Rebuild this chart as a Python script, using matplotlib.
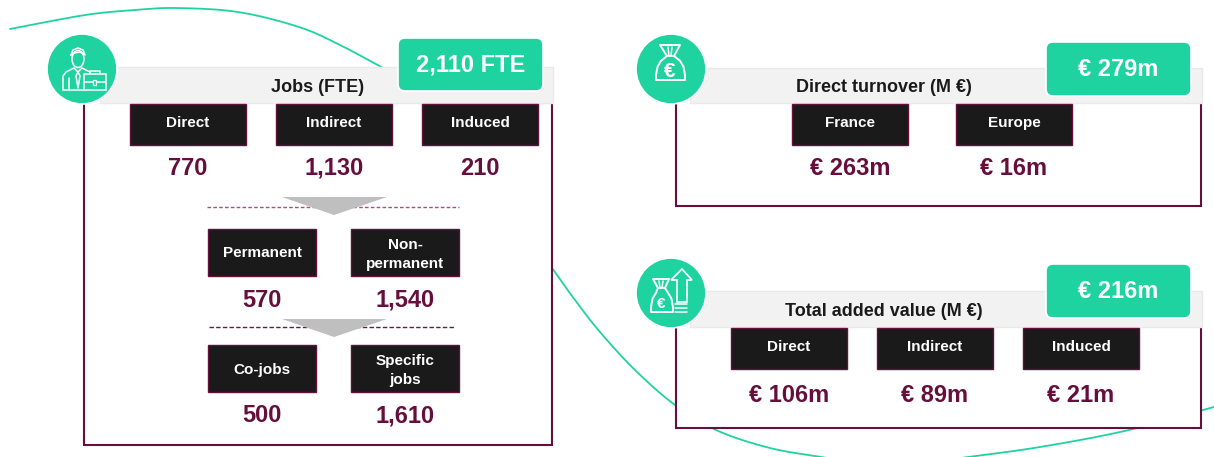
import numpy as np
import matplotlib
matplotlib.use("Agg")
import matplotlib.pyplot as plt
from matplotlib.patches import Rectangle, FancyBboxPatch, Circle, Polygon, Ellipse

plt.rcParams['font.family'] = ['Liberation Sans', 'DejaVu Sans']

# ---- content ----
jobs_title = "Jobs (FTE)"
jobs_total = "2,110 FTE"
jobs_cats = ["Direct", "Indirect", "Induced"]
jobs_vals = ["770", "1,130", "210"]
contract_cats = ["Permanent", "Non-\npermanent"]
contract_vals = ["570", "1,540"]
kind_cats = ["Co-jobs", "Specific\njobs"]
kind_vals = ["500", "1,610"]
turnover_title = "Direct turnover (M €)"
turnover_total = "€ 279m"
turnover_cats = ["France", "Europe"]
turnover_vals = ["€ 263m", "€ 16m"]
added_title = "Total added value (M €)"
added_total = "€ 216m"
added_cats = ["Direct", "Indirect", "Induced"]
added_vals = ["€ 106m", "€ 89m", "€ 21m"]

# ---- styles ----
GREEN = "#1fd3a0"
WINE = "#660f3c"
BLACK = "#1a1a1a"
GREY = "#f2f2f2"
ARROW = "#bfbfbf"

fig = plt.figure(figsize=(12.14, 4.57), dpi=100)
ax = fig.add_axes([0, 0, 1, 1])
ax.set_xlim(0, 1214)
ax.set_ylim(457, 0)
ax.axis("off")


def smooth(pts, n=16):
    p = np.array(pts, float)
    p = np.vstack([2 * p[0] - p[1], p, 2 * p[-1] - p[-2]])
    out = []
    for i in range(1, len(p) - 2):
        for t in np.linspace(0, 1, n, endpoint=False):
            out.append(0.5 * (2 * p[i] + (p[i + 1] - p[i - 1]) * t
                              + (2 * p[i - 1] - 5 * p[i] + 4 * p[i + 1] - p[i + 2]) * t ** 2
                              + (3 * p[i] - p[i - 1] - 3 * p[i + 1] + p[i + 2]) * t ** 3))
    out.append(p[-2])
    return np.array(out)


# background wave
wave_a = [(10, 29), (46, 22), (92, 14), (135, 10), (176, 8), (238, 12), (299, 27), (340, 45), (385, 69)]
wave_b = [(552, 268), (575, 300), (600, 332), (635, 370), (675, 405), (716, 430), (770, 448), (827, 458)]
wave_c = [(961, 458), (1040, 447), (1129, 430), (1214, 407)]
for w in (wave_a, wave_b, wave_c):
    s = smooth(w)
    ax.plot(s[:, 0], s[:, 1], color=GREEN, lw=1.3, zorder=1, solid_capstyle="round")


def panel(x0, x1, yh0, yh1, yb, hx0, title, tx, ty, total, bx0, by0, by1, total_base, cx, cy):
    ax.add_patch(Rectangle((x0, yh1), x1 - x0, yb - yh1, fc="white", ec="none", zorder=2))
    ax.plot([x0, x0, x1, x1], [yh1, yb, yb, yh1], color=WINE, lw=1.5, zorder=2,
            solid_joinstyle="miter")
    ax.add_patch(Rectangle((hx0, yh0), x1 + 1 - hx0, yh1 - yh0, fc=GREY, ec="#ebe8ea", lw=1, zorder=3))
    ax.text(tx, ty, title, ha="center", va="baseline", fontsize=13, fontweight="bold", color=BLACK, zorder=4)
    ax.add_patch(FancyBboxPatch((bx0 + 6, by0 + 6), 145 - 12, by1 - by0 - 12,
                                boxstyle="round,pad=6,rounding_size=7", fc=GREEN, ec="white", lw=1.2, zorder=5))
    ax.text(bx0 + 72.5, total_base, total, ha="center", va="baseline", fontsize=17,
            fontweight="bold", color="white", zorder=6)
    ax.add_patch(Circle((cx, cy), 35, fc=GREEN, ec="white", lw=1.2, zorder=5))


def boxes(cats, vals, xs, w, y0, y1, vbase, label_base):
    for c, v, x in zip(cats, vals, xs):
        ax.add_patch(Rectangle((x, y0), w, y1 - y0, fc=BLACK, ec=WINE, lw=1.0, zorder=4))
        rows = c.split("\n")
        bases = [y0 + label_base] if len(rows) == 1 else [y0 + 20, y0 + 39]
        for r, b in zip(rows, bases):
            ax.text(x + w / 2, b, r, ha="center", va="baseline", fontsize=11, fontweight="bold",
                    color="white", zorder=5)
        ax.text(x + w / 2, vbase, v, ha="center", va="baseline", fontsize=17, fontweight="bold",
                color=WINE, zorder=5)


# panels
panel(84, 552, 67, 103, 445, 100, jobs_title, 318, 91.5, jobs_total, 398, 38, 91, 71.5, 82, 69)
panel(676, 1201, 68, 103, 206, 690, turnover_title, 884, 92, turnover_total, 1046, 42, 96, 76.5, 671, 69)
panel(676, 1201, 291, 327, 428, 690, added_title, 884, 316, added_total, 1046, 264, 318, 297.5, 671, 293)

boxes(jobs_cats, jobs_vals, [130, 276, 422], 116, 104, 145, 175, 23)
boxes(contract_cats, contract_vals, [208, 351], 108, 229, 276, 307, 28)
boxes(kind_cats, kind_vals, [208, 351], 108, 345, 392, 422, 29)
boxes(turnover_cats, turnover_vals, [792, 956], 116, 104, 145, 175, 23)
boxes(added_cats, added_vals, [731, 877, 1023], 116, 328, 369, 401.5, 23)

# dividers + arrows
ax.plot([207, 459], [207, 207], color="#a3507c", lw=1, ls=(0, (2.6, 1.6)), zorder=3)
ax.plot([209, 455], [327, 327], color="#5c1f40", lw=1, ls=(0, (3.2, 1.6)), zorder=3)
ax.add_patch(Polygon([(282, 197), (387, 197), (334, 215)], fc=ARROW, ec="none", zorder=4))
ax.add_patch(Polygon([(282, 319), (387, 319), (334, 337)], fc=ARROW, ec="none", zorder=4))

# icons
ICON = dict(color="white", lw=1.1, zorder=7, solid_capstyle="round", solid_joinstyle="round")


def line(*pts, **kw):
    xs, ys = zip(*pts)
    st = dict(ICON)
    st.update(kw)
    ax.plot(xs, ys, **st)


# person with briefcase
ax.add_patch(Ellipse((78, 59), 12, 17, fc="none", ec="white", lw=1.1, zorder=7))
line((71, 55), (73, 50), (78, 48), (83, 50), (85, 55), (80, 52), (74, 53), (71, 55))
line((63, 90), (63, 76), (66, 72), (74, 68), (78, 72), (82, 68), (90, 72))
line((63, 90), (84, 90))
line((69, 78), (69, 90))
line((78, 72), (76, 76), (78, 88), (80, 76), (78, 72))
ax.add_patch(Rectangle((84, 74), 22, 16, fc=GREEN, ec="white", lw=1.1, zorder=7))
line((84, 82), (106, 82))
line((90, 74), (90, 71), (100, 71), (100, 74))
ax.add_patch(Rectangle((93, 80), 3, 5, fc=GREEN, ec="white", lw=0.9, zorder=8))


def bag(xa, xb, ytop, na, nb, yneck, xl, xr, ybot, esize):
    xm = (xa + xb) / 2
    ym = (yneck + ybot) / 2
    h = ybot - yneck
    verts = [(xa, ytop), (xb, ytop), (nb, yneck),
             (xr - 5, yneck + 0.2 * h), (xr - 1.5, yneck + 0.45 * h), (xr, ybot - 0.2 * h), (xr, ybot),
             (xl, ybot), (xl, ybot - 0.2 * h), (xl + 1.5, yneck + 0.45 * h), (xl + 5, yneck + 0.2 * h),
             (na, yneck), (xa, ytop)]
    ax.add_patch(Polygon(verts, closed=True, fc=GREEN, ec="white", lw=1.4, zorder=7, joinstyle="round"))
    line((na, yneck), (nb, yneck))
    line((xm - 2, ytop + 2), (xm - 1, yneck))
    line((xm + 2, ytop + 2), (xm + 1, yneck))
    ax.text(xm, ym + 3.5, "€", ha="center", va="center", color="white", fontsize=esize, fontweight="bold", zorder=8)


bag(660, 680, 45, 667, 674, 56, 656, 685, 80, 15)

# arrow + bag
ax.add_patch(Polygon([(682, 269), (692, 280), (687, 280), (687, 302), (677, 302), (677, 280), (671, 280)],
                     fc=GREEN, ec="white", lw=1.2, zorder=6))
for y in (304, 308, 312):
    line((675, y), (687, y))
bag(653, 669, 279, 658, 665, 288, 651, 673, 312, 11)

fig.savefig("out.png", dpi=100, facecolor="white")
